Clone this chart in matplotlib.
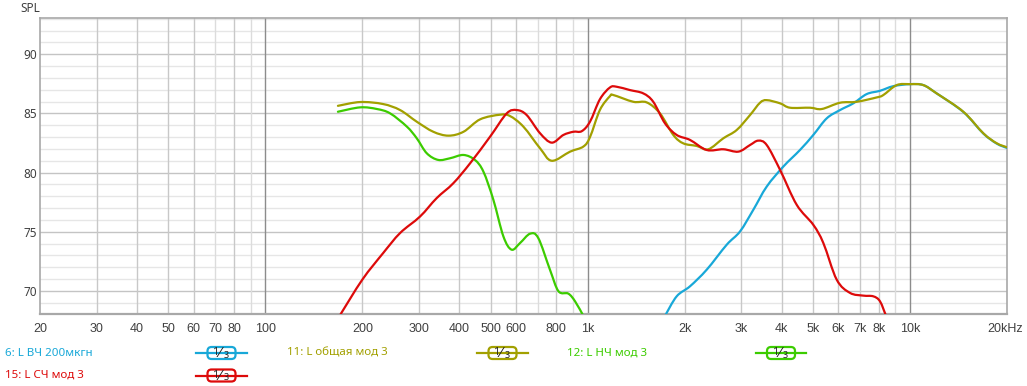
import matplotlib
matplotlib.use("Agg")
import numpy as np
import matplotlib.pyplot as plt
from matplotlib.patches import FancyBboxPatch, PathPatch
from matplotlib.path import Path
from matplotlib.lines import Line2D
from matplotlib.ticker import FixedLocator, NullFormatter, FixedFormatter
import matplotlib.transforms as mtransforms

W, H = 1027, 386

# ---------------- data ----------------
freq_total = [168, 197, 232, 262, 295, 332, 370, 412, 464, 535, 574, 632, 712, 774, 882, 970,
              1017, 1092, 1173, 1202, 1386, 1525, 1677, 1844, 1981, 2180, 2368, 2637, 2901, 3190,
              3426, 3594, 3954, 4246, 4897, 5324, 6066, 6833, 7885, 8266, 9095, 10000, 11000,
              12100, 14640, 16890, 18580, 20000]
spl_total = [85.64, 85.96, 85.79, 85.28, 84.30, 83.45, 83.12, 83.45, 84.5, 84.89, 84.78, 83.88,
             82.05, 81.0, 81.77, 82.2, 83.0, 85.3, 86.46, 86.55, 85.98, 85.93, 85.0, 83.18, 82.47,
             82.25, 81.97, 82.9, 83.6, 84.86, 85.9, 86.12, 85.85, 85.48, 85.48, 85.37, 85.9, 85.98,
             86.35, 86.55, 87.39, 87.47, 87.39, 86.69, 85.14, 83.32, 82.48, 82.14]

freq_low = [168, 197, 222, 244, 275, 295, 317, 344, 374, 412, 447, 475, 510, 548, 581, 617, 663,
            703, 764, 812, 871, 914, 970]
spl_low = [85.14, 85.51, 85.37, 85.0, 83.88, 82.9, 81.63, 81.07, 81.21, 81.49, 81.07, 80.08, 77.7,
           74.6, 73.49, 74.05, 74.84, 74.47, 71.8, 69.98, 69.78, 69.13, 67.9]

freq_mid = [170, 200, 232, 262, 302, 340, 383, 432, 498, 561, 603, 647, 712, 774, 841, 903, 959,
            1017, 1092, 1173, 1231, 1353, 1488, 1598, 1738, 1889, 2078, 2341, 2637, 2935, 3190,
            3385, 3594, 3954, 4453, 5013, 5386, 5925, 6516, 7166, 7697, 8072, 8427]
spl_mid = [67.9, 70.96, 73.2, 74.9, 76.29, 77.84, 79.1, 80.79, 83.03, 85.0, 85.28, 84.86, 83.32,
           82.53, 83.18, 83.45, 83.5, 84.3, 86.2, 87.19, 87.25, 86.97, 86.69, 85.98, 84.16, 83.18,
           82.76, 81.91, 81.97, 81.77, 82.33, 82.7, 82.33, 80.23, 77.28, 75.59, 74.05, 70.96,
           69.84, 69.61, 69.55, 69.13, 67.9]

freq_high = [1738, 1889, 2078, 2341, 2701, 2970, 3266, 3594, 4047, 4558, 5013, 5516, 6066, 6671,
             7338, 8072, 8878, 10000, 11000, 12100, 14640, 16890, 18580, 20000]
spl_high = [67.9, 69.55, 70.4, 71.8, 73.91, 75.03, 76.86, 78.82, 80.51, 81.91, 83.18, 84.58, 85.28,
            85.85, 86.63, 86.91, 87.3, 87.47, 87.39, 86.69, 85.12, 83.3, 82.45, 82.08]

x_ticks = [20, 30, 40, 50, 60, 70, 80, 100, 200, 300, 400, 500, 600, 800, 1000, 2000, 3000, 4000,
           5000, 6000, 7000, 8000, 10000, 20000]
x_labels = ["20", "30", "40", "50", "60", "70", "80", "100", "200", "300", "400", "500", "600",
            "800", "1k", "2k", "3k", "4k", "5k", "6k", "7k", "8k", "10k", "20kHz"]
y_ticks = [70, 75, 80, 85, 90]

series_names = ["6: L ВЧ 200мкгн", "15: L СЧ мод 3", "11: L общая мод 3", "12: L НЧ мод 3"]

# ---------------- style ----------------
C_BLUE = "#18a8d8"
C_RED = "#dd0a0a"
C_OLIVE = "#a2a000"
C_GREEN = "#3ccc00"
TXT = "#404040"

fig = plt.figure(figsize=(W / 100, H / 100), dpi=100)
fig.patch.set_facecolor("white")


def fx(x):
    return x / W


def fy(y):
    return 1 - y / H


ax_l, ax_r, ax_t, ax_b = 40, 1007, 17.5, 313.5
ax = fig.add_axes([fx(ax_l), fy(ax_b), (ax_r - ax_l) / W, (ax_b - ax_t) / H])
ax.set_xscale("log")
ax.set_xlim(20, 20000)
ax.set_ylim(68.1, 93.1)

# grid
for v in range(69, 94):
    if v % 5 == 0:
        ax.axhline(v, color="#c4c4c4", lw=1.0, zorder=1)
    else:
        ax.axhline(v, color="#e6e6e6", lw=1.0, zorder=0.5)
grid_f = []
for dec in (10, 100, 1000, 10000):
    for m in range(1, 10):
        f = dec * m
        if 20 < f < 20000:
            grid_f.append(f)
for f in grid_f:
    if f in (100, 1000, 10000):
        ax.axvline(f, color="#8c8c8c", lw=1.0, zorder=1.2)
    elif f in (70, 90, 700, 900, 9000):
        ax.axvline(f, color="#dcdcdc", lw=1.0, zorder=1.1)
    else:
        ax.axvline(f, color="#c8c8c8", lw=1.0, zorder=1.1)


def smooth_curve(freqs, spls, color, z):
    """Draw a smooth Bezier path through the points (Catmull-Rom in log-frequency)."""
    lx = np.log10(np.asarray(freqs, float))
    yy = np.asarray(spls, float)
    n = len(lx)
    verts = [(freqs[0], spls[0])]
    codes = [Path.MOVETO]
    for i in range(n - 1):
        i0 = max(i - 1, 0)
        i3 = min(i + 2, n - 1)
        c1x = lx[i] + (lx[i + 1] - lx[i0]) / 6
        c1y = yy[i] + (yy[i + 1] - yy[i0]) / 6
        c2x = lx[i + 1] - (lx[i3] - lx[i]) / 6
        c2y = yy[i + 1] - (yy[i3] - yy[i]) / 6
        verts += [(10 ** c1x, c1y), (10 ** c2x, c2y), (freqs[i + 1], spls[i + 1])]
        codes += [Path.CURVE4] * 3
    patch = PathPatch(Path(verts, codes), facecolor="none", edgecolor=color, lw=1.6,
                      zorder=z, capstyle="round", joinstyle="round")
    ax.add_patch(patch)


smooth_curve(freq_high, spl_high, C_BLUE, 3.0)
smooth_curve(freq_low, spl_low, C_GREEN, 3.1)
smooth_curve(freq_total, spl_total, C_OLIVE, 3.2)
smooth_curve(freq_mid, spl_mid, C_RED, 3.3)

for s in ax.spines.values():
    s.set_color("#a8a8a8")
    s.set_linewidth(1.2)
ax.spines["bottom"].set_linewidth(1.6)

ax.xaxis.set_major_locator(FixedLocator(x_ticks))
ax.xaxis.set_major_formatter(FixedFormatter(x_labels))
ax.xaxis.set_minor_locator(FixedLocator([]))
ax.xaxis.set_minor_formatter(NullFormatter())
ax.set_yticks(y_ticks)
ax.tick_params(axis="both", length=0, colors=TXT)
ax.tick_params(axis="x", pad=7)
ax.tick_params(axis="y", pad=2)
for lab in ax.get_xticklabels():
    lab.set_fontfamily(["Liberation Sans Narrow", "Liberation Sans", "DejaVu Sans"])
    lab.set_fontsize(9)
for lab in ax.get_yticklabels():
    lab.set_fontfamily(["Noto Sans", "DejaVu Sans"])
    lab.set_fontsize(8.5)
last = ax.get_xticklabels()[-1]
last.set_horizontalalignment("right")
last.set_transform(last.get_transform() + mtransforms.ScaledTranslation(16 / 100, 0, fig.dpi_scale_trans))

fig.text(fx(20), fy(8.5), "SPL", fontsize=8.5, color=TXT, family=["Noto Sans", "DejaVu Sans"],
         ha="left", va="center")

# legend
entries = [
    (series_names[0], C_BLUE, 5, 353, 196, 247),
    (series_names[1], C_RED, 5, 375.5, 196, 247),
    (series_names[2], C_OLIVE, 287, 353, 477, 528),
    (series_names[3], C_GREEN, 567, 353, 756, 806),
]
for name, col, tx, ty, l0, l1 in entries:
    fig.text(fx(tx), fy(ty), name, color=col, fontsize=8.3, family=["Noto Sans", "DejaVu Sans"],
             ha="left", va="center")
    fig.add_artist(Line2D([fx(l0), fx(l1)], [fy(ty), fy(ty)], color=col, lw=1.6,
                          transform=fig.transFigure))
    cx = (l0 + l1) / 2
    bw, bh = 28, 12
    box = FancyBboxPatch((fx(cx - bw / 2), fy(ty + bh / 2)), bw / W, bh / H,
                         boxstyle="round,pad=0,rounding_size=0.004",
                         transform=fig.transFigure, facecolor="white", edgecolor=col, lw=1.6,
                         mutation_aspect=W / H)
    fig.add_artist(box)
    fig.text(fx(cx - 6), fy(ty - 0.5), "1", color="#222222", fontsize=8,
             family=["Noto Sans", "DejaVu Sans"], ha="center", va="center")
    fig.text(fx(cx - 1.5), fy(ty), "\u2044", color="#222222", fontsize=10,
             family="DejaVu Sans", ha="center", va="center")
    fig.text(fx(cx + 4.5), fy(ty + 2), "3", color="#222222", fontsize=6.5,
             family=["Noto Sans", "DejaVu Sans"], ha="center", va="center")

fig.savefig("out.png", dpi=100, facecolor="white")
